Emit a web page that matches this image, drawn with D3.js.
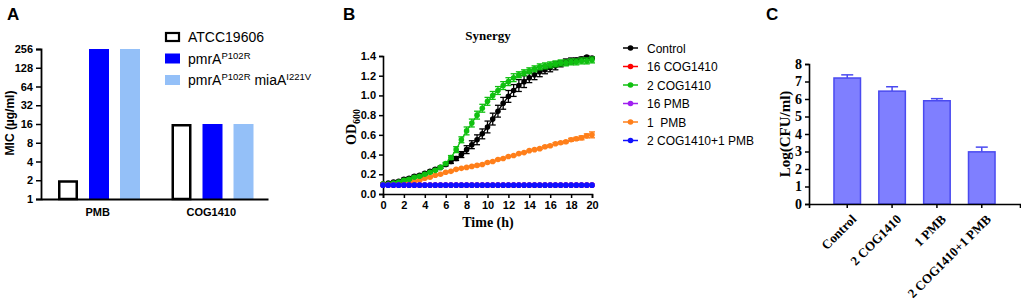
<!DOCTYPE html>
<html>
<head>
<meta charset="utf-8">
<script src="https://cdn.jsdelivr.net/npm/d3@7"></script>
<style>
  body { margin: 0; background: #fff; }
  svg { display: block; }
  .arial { font-family: "Liberation Sans", Arial, sans-serif; }
  .times { font-family: "Liberation Serif", "Times New Roman", serif; }
</style>
</head>
<body>
<div id="container"></div>
<script>
// ---- Panel A data: MIC (ug/ml)
const drugs = ["PMB", "COG1410"];
const strains = ["ATCC19606", "pmrA", "pmrA miaA"];
const micPMB = [2, 256, 256];
const micCOG = [16, 16, 16];
const micTicks = [1, 2, 4, 8, 16, 32, 64, 128, 256];

// ---- Panel B data: growth curves (OD600), every 0.5 h
const times = d3.range(0, 20.01, 0.5);
const seriesNames = ["Control", "16 COG1410", "2 COG1410", "16 PMB", "1  PMB", "2 COG1410+1 PMB"];
const odControl = [0.10,0.11,0.12,0.13,0.15,0.16,0.18,0.19,0.21,0.23,0.25,0.27,0.30,0.33,0.36,0.40,0.45,0.50,0.55,0.61,0.68,0.76,0.84,0.92,0.99,1.05,1.10,1.14,1.18,1.21,1.24,1.26,1.28,1.30,1.32,1.34,1.35,1.36,1.37,1.39,1.38];
const sdControl = [0.005,0.005,0.005,0.008,0.01,0.01,0.01,0.01,0.01,0.01,0.01,0.01,0.015,0.02,0.02,0.03,0.04,0.04,0.05,0.05,0.06,0.06,0.06,0.06,0.06,0.06,0.06,0.06,0.05,0.05,0.05,0.04,0.04,0.04,0.03,0.03,0.03,0.02,0.02,0.01,0.01];
const od16COG = [0.09,0.09,0.09,0.09,0.09,0.09,0.09,0.09,0.09,0.09,0.09,0.09,0.09,0.09,0.09,0.09,0.09,0.09,0.09,0.09,0.09,0.09,0.09,0.09,0.09,0.09,0.09,0.09,0.09,0.09,0.09,0.09,0.09,0.09,0.09,0.09,0.09,0.09,0.09,0.09,0.09];
const od2COG = [0.10,0.10,0.11,0.12,0.14,0.15,0.17,0.18,0.20,0.22,0.24,0.27,0.31,0.37,0.45,0.55,0.64,0.72,0.80,0.87,0.94,1.00,1.05,1.10,1.14,1.18,1.21,1.23,1.25,1.27,1.29,1.30,1.31,1.32,1.33,1.33,1.34,1.34,1.35,1.35,1.36];
const sd2COG = [0.005,0.005,0.005,0.005,0.01,0.01,0.01,0.01,0.01,0.01,0.01,0.01,0.01,0.02,0.03,0.03,0.04,0.04,0.04,0.04,0.04,0.04,0.04,0.04,0.04,0.04,0.03,0.03,0.03,0.03,0.03,0.03,0.03,0.03,0.03,0.03,0.03,0.03,0.03,0.03,0.03];
const od16PMB = [0.09,0.09,0.09,0.09,0.09,0.09,0.09,0.09,0.09,0.09,0.09,0.09,0.09,0.09,0.09,0.09,0.09,0.09,0.09,0.09,0.09,0.09,0.09,0.09,0.09,0.09,0.09,0.09,0.09,0.09,0.09,0.09,0.09,0.09,0.09,0.09,0.09,0.09,0.09,0.09,0.09];
const od1PMB = [0.10,0.10,0.10,0.10,0.11,0.12,0.13,0.14,0.16,0.17,0.19,0.20,0.22,0.23,0.25,0.26,0.27,0.28,0.29,0.30,0.32,0.33,0.35,0.36,0.38,0.39,0.41,0.42,0.44,0.45,0.46,0.48,0.49,0.51,0.52,0.53,0.55,0.56,0.57,0.59,0.60];
const sd1PMB = [0.003,0.003,0.003,0.003,0.005,0.005,0.005,0.005,0.005,0.005,0.005,0.005,0.005,0.005,0.005,0.005,0.005,0.005,0.005,0.005,0.005,0.005,0.005,0.005,0.005,0.005,0.005,0.005,0.005,0.005,0.008,0.008,0.01,0.01,0.01,0.01,0.015,0.015,0.02,0.02,0.03];
const odCombo = [0.09,0.09,0.09,0.09,0.09,0.09,0.09,0.09,0.09,0.09,0.09,0.09,0.09,0.09,0.09,0.09,0.09,0.09,0.09,0.09,0.09,0.09,0.09,0.09,0.09,0.09,0.09,0.09,0.09,0.09,0.09,0.09,0.09,0.09,0.09,0.09,0.09,0.09,0.09,0.09,0.09];
const seriesColors = ["#000000", "#ff0000", "#10c010", "#a020f0", "#ff7f1a", "#1010ff"];

// ---- Panel C data: Log(CFU/ml)
const treatments = ["Control", "2 COG1410", "1 PMB", "2 COG1410+1 PMB"];
const cfuMean = [7.2, 6.45, 5.9, 2.98];
const cfuSD = [0.18, 0.25, 0.12, 0.27];

const svg = d3.select("#container").append("svg")
  .attr("width", 1021).attr("height", 303);

// ================= Panel A =================
const gA = svg.append("g");
gA.append("text").attr("class", "arial").attr("x", 7).attr("y", 20)
  .style("font-size", "17px").style("font-weight", "bold").text("A");

const yA = d3.scaleLog().base(2).domain([1, 256]).range([199, 49]);
const x0A = d3.scaleBand().domain(drugs).range([41, 268]);
const x1A = d3.scaleBand().domain(strains).range([17, 99]).paddingInner(0.355);
const fillA = {"ATCC19606": "#ffffff", "pmrA": "#0000ff", "pmrA miaA": "#94c0f8"};

const micTable = drugs.map((dr, i) => ({drug: dr, vals: i === 0 ? micPMB : micCOG}));
micTable.forEach(row => {
  row.vals.forEach((v, j) => {
    const s = strains[j];
    const isOpen = j === 0;
    gA.append("rect")
      .attr("x", x0A(row.drug) + x1A(s) + (isOpen ? 1.25 : 0))
      .attr("y", yA(v) + (isOpen ? 1.25 : 0))
      .attr("width", x1A.bandwidth() - (isOpen ? 2.5 : 0))
      .attr("height", yA(1) - yA(v) - (isOpen ? 1.25 : 0))
      .attr("fill", fillA[s])
      .attr("stroke", isOpen ? "#000" : "none")
      .attr("stroke-width", 2.5);
  });
});

const axYA = gA.append("g").attr("transform", "translate(41,0)")
  .call(d3.axisLeft(yA).tickValues(micTicks).tickFormat(d3.format("d")).tickSize(5));
axYA.selectAll("text").attr("class", "arial").style("font-size", "11px").style("font-weight", "bold").attr("fill", "#000");
const axXA = gA.append("g").attr("transform", "translate(0,199)")
  .call(d3.axisBottom(x0A).tickSize(0).tickPadding(9));
axXA.selectAll("text").attr("class", "arial").style("font-size", "11px").style("font-weight", "bold").attr("fill", "#000");
[axYA, axXA].forEach(a => {
  a.select(".domain").attr("stroke", "#000").attr("stroke-width", 1.8);
  a.selectAll(".tick line").attr("stroke", "#000").attr("stroke-width", 1.5);
});

gA.append("text").attr("class", "arial")
  .attr("transform", "translate(14,123) rotate(-90)")
  .attr("text-anchor", "middle").style("font-size", "12px").style("font-weight", "bold")
  .text("MIC (\u00b5g/ml)");

// legend A
const legA = gA.append("g").attr("class", "arial");
strains.forEach((s, i) => {
  const y = 37 + i * 21.5;
  legA.append("rect").attr("x", i === 0 ? 166 : 165).attr("y", y - (i === 0 ? 4 : 5))
    .attr("width", i === 0 ? 13 : 15).attr("height", i === 0 ? 8 : 10)
    .attr("fill", fillA[s]).attr("stroke", i === 0 ? "#000" : "none").attr("stroke-width", 2.2);
  const t = legA.append("text").attr("x", 188).attr("y", y + 5).style("font-size", "14px");
  if (i === 0) {
    t.text("ATCC19606");
  } else {
    t.append("tspan").text("pmrA");
    t.append("tspan").attr("dy", -5).style("font-size", "9.5px").text("P102R");
    if (i === 2) {
      t.append("tspan").attr("dy", 5).text(" miaA");
      t.append("tspan").attr("dy", -5).style("font-size", "9.5px").text("I221V");
    }
  }
});

// ================= Panel B =================
const gB = svg.append("g");
gB.append("text").attr("class", "arial").attr("x", 343).attr("y", 20)
  .style("font-size", "17px").style("font-weight", "bold").text("B");

const xB = d3.scaleLinear().domain([0, 20]).range([383, 592]);
const yB = d3.scaleLinear().domain([0, 1.4]).range([194, 56]);

gB.append("text").attr("class", "times").attr("x", 488).attr("y", 40)
  .attr("text-anchor", "middle").style("font-size", "13px").style("font-weight", "bold").text("Synergy");

const axXB = gB.append("g").attr("transform", "translate(0,194)")
  .call(d3.axisBottom(xB).tickValues(d3.range(0, 21, 2)).tickSize(4).tickPadding(3));
const axYB = gB.append("g").attr("transform", "translate(383,0)")
  .call(d3.axisLeft(yB).tickValues(d3.range(0, 1.41, 0.2)).tickFormat(d3.format(".1f")).tickSize(4));
[axXB, axYB].forEach(a => {
  a.select(".domain").attr("stroke", "#000").attr("stroke-width", 1.6);
  a.selectAll(".tick line").attr("stroke", "#000").attr("stroke-width", 1.5);
  a.selectAll("text").attr("class", "arial").style("font-size", "11px").style("font-weight", "bold").attr("fill", "#000");
});

gB.append("text").attr("class", "times").attr("x", 488).attr("y", 227)
  .attr("text-anchor", "middle").style("font-size", "14px").style("font-weight", "bold").text("Time (h)");
const odLab = gB.append("text").attr("class", "times")
  .attr("transform", "translate(356,127) rotate(-90)")
  .attr("text-anchor", "middle").style("font-size", "14px").style("font-weight", "bold");
odLab.append("tspan").text("OD");
odLab.append("tspan").attr("dy", 4).style("font-size", "10px").text("600");

const odSeries = [
  {vals: odControl, sd: sdControl},
  {vals: od16COG, sd: null},
  {vals: od2COG, sd: sd2COG},
  {vals: od16PMB, sd: null},
  {vals: od1PMB, sd: sd1PMB},
  {vals: odCombo, sd: null}
];
const line = d3.line().x((d, i) => xB(times[i])).y(d => yB(d));
// draw order: orange, control, green, then flat ones on top
[4, 0, 2, 1, 3, 5].forEach(k => {
  const s = odSeries[k], c = seriesColors[k];
  const g = gB.append("g");
  if (s.sd) {
    s.vals.forEach((v, i) => {
      const x = xB(times[i]), y1 = yB(v + s.sd[i]), y2 = yB(v - s.sd[i]);
      g.append("line").attr("x1", x).attr("x2", x).attr("y1", y1).attr("y2", y2)
        .attr("stroke", c).attr("stroke-width", 1.3);
      [y1, y2].forEach(yy => g.append("line").attr("x1", x - 3).attr("x2", x + 3)
        .attr("y1", yy).attr("y2", yy).attr("stroke", c).attr("stroke-width", 1.3));
    });
  }
  g.append("path").datum(s.vals).attr("d", line).attr("fill", "none")
    .attr("stroke", c).attr("stroke-width", 1.3);
  g.selectAll("circle").data(s.vals).join("circle")
    .attr("cx", (d, i) => xB(times[i])).attr("cy", d => yB(d)).attr("r", 2.8).attr("fill", c);
});

// legend B
const legB = gB.append("g").attr("class", "arial");
seriesNames.forEach((n, i) => {
  const y = 48 + i * 18.5;
  legB.append("line").attr("x1", 623).attr("x2", 638).attr("y1", y).attr("y2", y)
    .attr("stroke", seriesColors[i]).attr("stroke-width", 1.5);
  legB.append("circle").attr("cx", 630.5).attr("cy", y).attr("r", 2.8).attr("fill", seriesColors[i]);
  legB.append("text").attr("x", 647).attr("y", y + 4.5).style("font-size", "12px")
    .style("white-space", "pre").attr("xml:space", "preserve").text(n);
});

// ================= Panel C =================
const gC = svg.append("g");
gC.append("text").attr("class", "arial").attr("x", 766).attr("y", 20)
  .style("font-size", "17px").style("font-weight", "bold").text("C");

const xC = d3.scaleBand().domain(treatments).range([809, 1020]).paddingInner(0.375).paddingOuter(0.54);
const yC = d3.scaleLinear().domain([0, 8]).range([204, 64]);

cfuMean.forEach((v, i) => {
  const x = xC(treatments[i]), cx = x + xC.bandwidth() / 2, top = yC(v + cfuSD[i]);
  gC.append("line").attr("x1", cx).attr("x2", cx).attr("y1", yC(v)).attr("y2", top)
    .attr("stroke", "#4a4af0").attr("stroke-width", 1.5);
  gC.append("line").attr("x1", cx - 6).attr("x2", cx + 6).attr("y1", top).attr("y2", top)
    .attr("stroke", "#4a4af0").attr("stroke-width", 1.5);
  gC.append("rect").attr("x", x + 0.75).attr("y", yC(v))
    .attr("width", xC.bandwidth() - 1.5).attr("height", yC(0) - yC(v))
    .attr("fill", "#7f7fff").attr("stroke", "#4a4af0").attr("stroke-width", 1.5);
});

const axYC = gC.append("g").attr("transform", "translate(809,0)")
  .call(d3.axisLeft(yC).ticks(8).tickSize(4).tickPadding(3));
const axXC = gC.append("g").attr("transform", "translate(0,204)")
  .call(d3.axisBottom(xC).tickSize(4));
[axXC, axYC].forEach(a => {
  a.select(".domain").attr("stroke", "#000").attr("stroke-width", 1.6);
  a.selectAll(".tick line").attr("stroke", "#000").attr("stroke-width", 1.5);
  a.selectAll("text").attr("class", "times").style("font-weight", "bold").attr("fill", "#000");
});
axYC.selectAll("text").style("font-size", "14px");
axXC.selectAll("text").style("font-size", "13px")
  .attr("text-anchor", "end").attr("dy", 0).attr("y", 0)
  .attr("transform", "translate(10,16) rotate(-45)");

gC.append("text").attr("class", "times")
  .attr("transform", "translate(790,134) rotate(-90)")
  .attr("text-anchor", "middle").style("font-size", "15px").style("font-weight", "bold")
  .text("Log(CFU/ml)");
</script>
</body>
</html>
